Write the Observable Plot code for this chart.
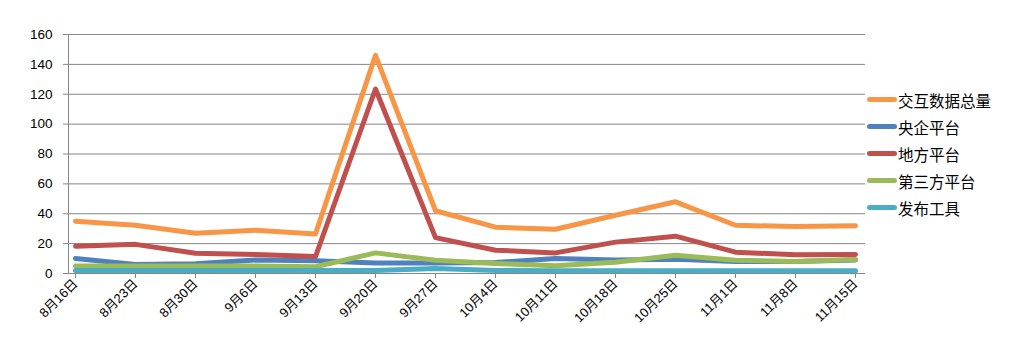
<!DOCTYPE html>
<html><head><meta charset="utf-8">
<script src="https://cdn.jsdelivr.net/npm/d3@7"></script>
<script src="https://cdn.jsdelivr.net/npm/@observablehq/plot@0.6"></script>
<style>
body{margin:0;background:#fff;font-family:"Liberation Sans","Noto Sans CJK SC",sans-serif;}
#wrap{position:relative;width:1013px;height:363px;}
#legend{position:absolute;left:867px;top:86px;font-family:"Noto Sans CJK SC",sans-serif;font-size:15.5px;color:#000;}
.row{display:flex;align-items:center;height:27px;}
.sw{width:30px;height:5px;border-radius:3px;margin-right:1px;}
</style></head>
<body><div id="wrap"><div id="legend"></div></div>
<script>
const dates = ["8月16日","8月23日","8月30日","9月6日","9月13日","9月20日","9月27日","10月4日","10月11日","10月18日","10月25日","11月1日","11月8日","11月15日"];
const seriesNames = ["交互数据总量","央企平台","地方平台","第三方平台","发布工具"];
const total    = [35, 32.3, 27, 29, 26.5, 146, 42, 31, 29.6, 39, 48, 32.3, 31.4, 32];
const central  = [10, 6, 6.5, 9, 8.5, 7, 7, 7.4, 10, 9, 9.5, 8, 8, 9];
const local    = [18.3, 19.5, 13.5, 12.7, 11.4, 123.5, 24, 15.6, 13.8, 21, 25, 14.3, 12.5, 12.7];
const third    = [5, 5, 5, 5, 4.5, 13.8, 8.8, 6.7, 5.2, 7.5, 12.2, 8.9, 8, 9.3];
const tools    = [2, 2, 2, 2, 2, 2, 3.3, 2, 1.8, 1.8, 1.8, 1.8, 1.8, 1.8];
const colors = ["#F79646","#4F81BD","#C0504D","#9BBB59","#4BACC6"];
const values = [total, central, local, third, tools];
const yTicks = [0,20,40,60,80,100,120,140,160];

const data = [];
seriesNames.forEach((s, k) => dates.forEach((d, i) => data.push({date: d, series: s, value: values[k][i]})));

const chart = Plot.plot({
  width: 1013, height: 363,
  marginLeft: 68, marginRight: 148, marginTop: 34, marginBottom: 90,
  insetLeft: 2, insetRight: 5,
  style: {fontFamily: '"Liberation Sans","Noto Sans CJK SC",sans-serif', fontSize: "13px", color: "#000"},
  x: {type: "point", domain: dates, padding: 0},
  y: {domain: [0, 160], ticks: yTicks},
  color: {domain: seriesNames, range: colors},
  marks: [
    Plot.gridY(yTicks, {stroke: "#868686", strokeOpacity: 1}),
    Plot.frame({anchor: "left", stroke: "#868686"}),
    Plot.axisY(yTicks, {tickSize: 5, stroke: "#868686", tickPadding: 11, fontSize: 13.5, label: null}),
    Plot.axisX({tickSize: 5, stroke: "#868686", tickRotate: -45, tickPadding: 3, fontSize: 13, label: null}),
    Plot.ruleY([0], {stroke: "#868686"}),
    ...seriesNames.map((s, k) => Plot.line(data.filter(d => d.series === s), {x: "date", y: "value", stroke: colors[k], strokeWidth: 5, strokeLinecap: "round", strokeLinejoin: "round"}))
  ]
});
chart.querySelectorAll('[aria-label$="tick label"] text, [aria-label$="tick label"]').forEach(t => t.setAttribute("fill", "#000"));
document.getElementById("wrap").prepend(chart);

const lg = document.getElementById("legend");
seriesNames.forEach((s, k) => {
  const r = document.createElement("div"); r.className = "row";
  r.innerHTML = `<div class="sw" style="background:${colors[k]}"></div><span>${s}</span>`;
  lg.appendChild(r);
});
</script></body></html>
